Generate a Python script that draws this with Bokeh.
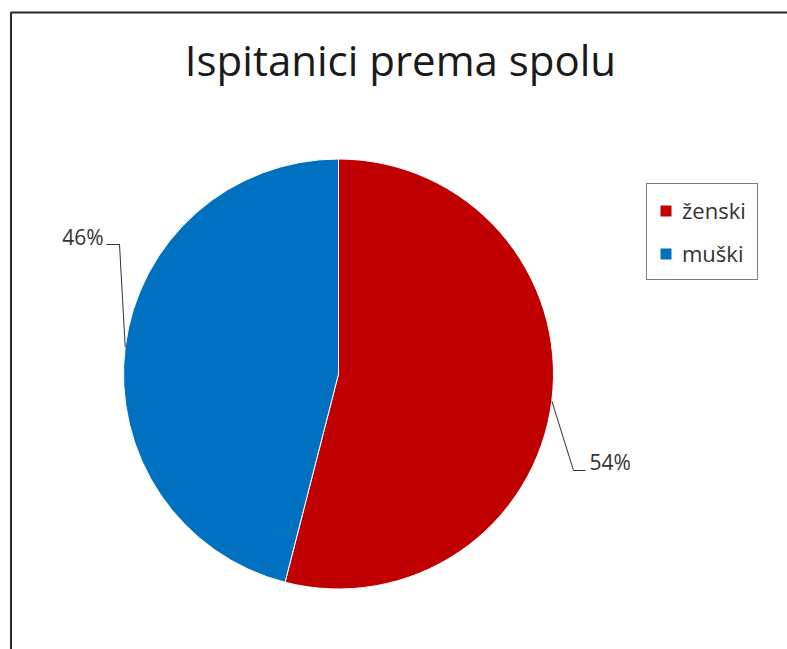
import numpy as np
from bokeh.plotting import figure
from bokeh.models import ColumnDataSource, Label, Legend, LegendItem, Range1d
from bokeh.embed import file_html
from bokeh.resources import INLINE

# ---- data ----
title_text = "Ispitanici prema spolu"
categories = ["ženski", "muški"]
values = [54, 46]
colors = ["#C00000", "#0070C0"]

# ---- layout helpers (page pixel -> data units, 1 unit = 1 px) ----
W, H = 787, 649


def px(x):
    return x


def py(y):
    return H - y


total = float(sum(values))
frac = np.array(values, dtype=float) / total
cum = np.cumsum(frac)
prev = cum - frac
start = np.pi / 2 - 2 * np.pi * cum
end = np.pi / 2 - 2 * np.pi * prev
mid = (start + end) / 2
pct = [f"{round(f * 100)}%" for f in frac]

cx, cy, r = px(338), py(373.5), 215

p = figure(width=W, height=H, x_range=Range1d(0, W), y_range=Range1d(0, H),
           output_backend="svg", toolbar_location=None,
           x_axis_location=None, y_axis_location=None,
           min_border=0, outline_line_color=None,
           background_fill_color="white", border_fill_color="white")
p.grid.visible = False

# chart-area border (left and top edges visible in the crop)
p.line(x=[px(10.5), px(10.5), W], y=[0, py(12), py(12)],
       line_color="#2a2a2a", line_width=2)

src = ColumnDataSource(dict(cat=categories, val=values, start=start,
                            end=end, color=colors))
w = p.wedge(x=cx, y=cy, radius=r, start_angle="start", end_angle="end",
            fill_color="color", line_color="white", line_width=1, source=src)

# data labels with leader lines
label_layout = [  # (elbow_x, elbow_y, tail_x, text_x, text_y, align)
    (573, 470, 585, 589, 461, "left"),
    (119, 244, 106, 103, 236, "right"),
]
for i, (ex, ey, tx, lx, ly, al) in enumerate(label_layout):
    ax = cx + r * np.cos(mid[i])
    ay = cy + r * np.sin(mid[i])
    p.line(x=[ax, px(ex), px(tx)], y=[ay, py(ey), py(ey)],
           line_color="#333333", line_width=1)
    p.add_layout(Label(x=px(lx), y=py(ly), text=pct[i], text_align=al,
                       text_baseline="alphabetic", text_font="Open Sans",
                       text_font_size="21px", text_color="#333333"))

p.add_layout(Label(x=px(400), y=py(59), text=title_text, text_align="center",
                   text_baseline="alphabetic", text_font="Open Sans",
                   text_font_size="42px", text_color="#1a1a1a"))

legend = Legend(items=[LegendItem(label=c, renderers=[w], index=i)
                       for i, c in enumerate(categories)],
                location=(px(646), H - 280),
                border_line_color="black", border_line_width=1,
                padding=11, spacing=13, margin=0,
                glyph_width=15, glyph_height=15, label_standoff=9,
                label_height=22,
                label_text_font="Open Sans", label_text_font_size="22px",
                label_text_color="#333333", background_fill_color="white",
                background_fill_alpha=1)
p.add_layout(legend)

open("out.html", "w").write(file_html(p, INLINE))
